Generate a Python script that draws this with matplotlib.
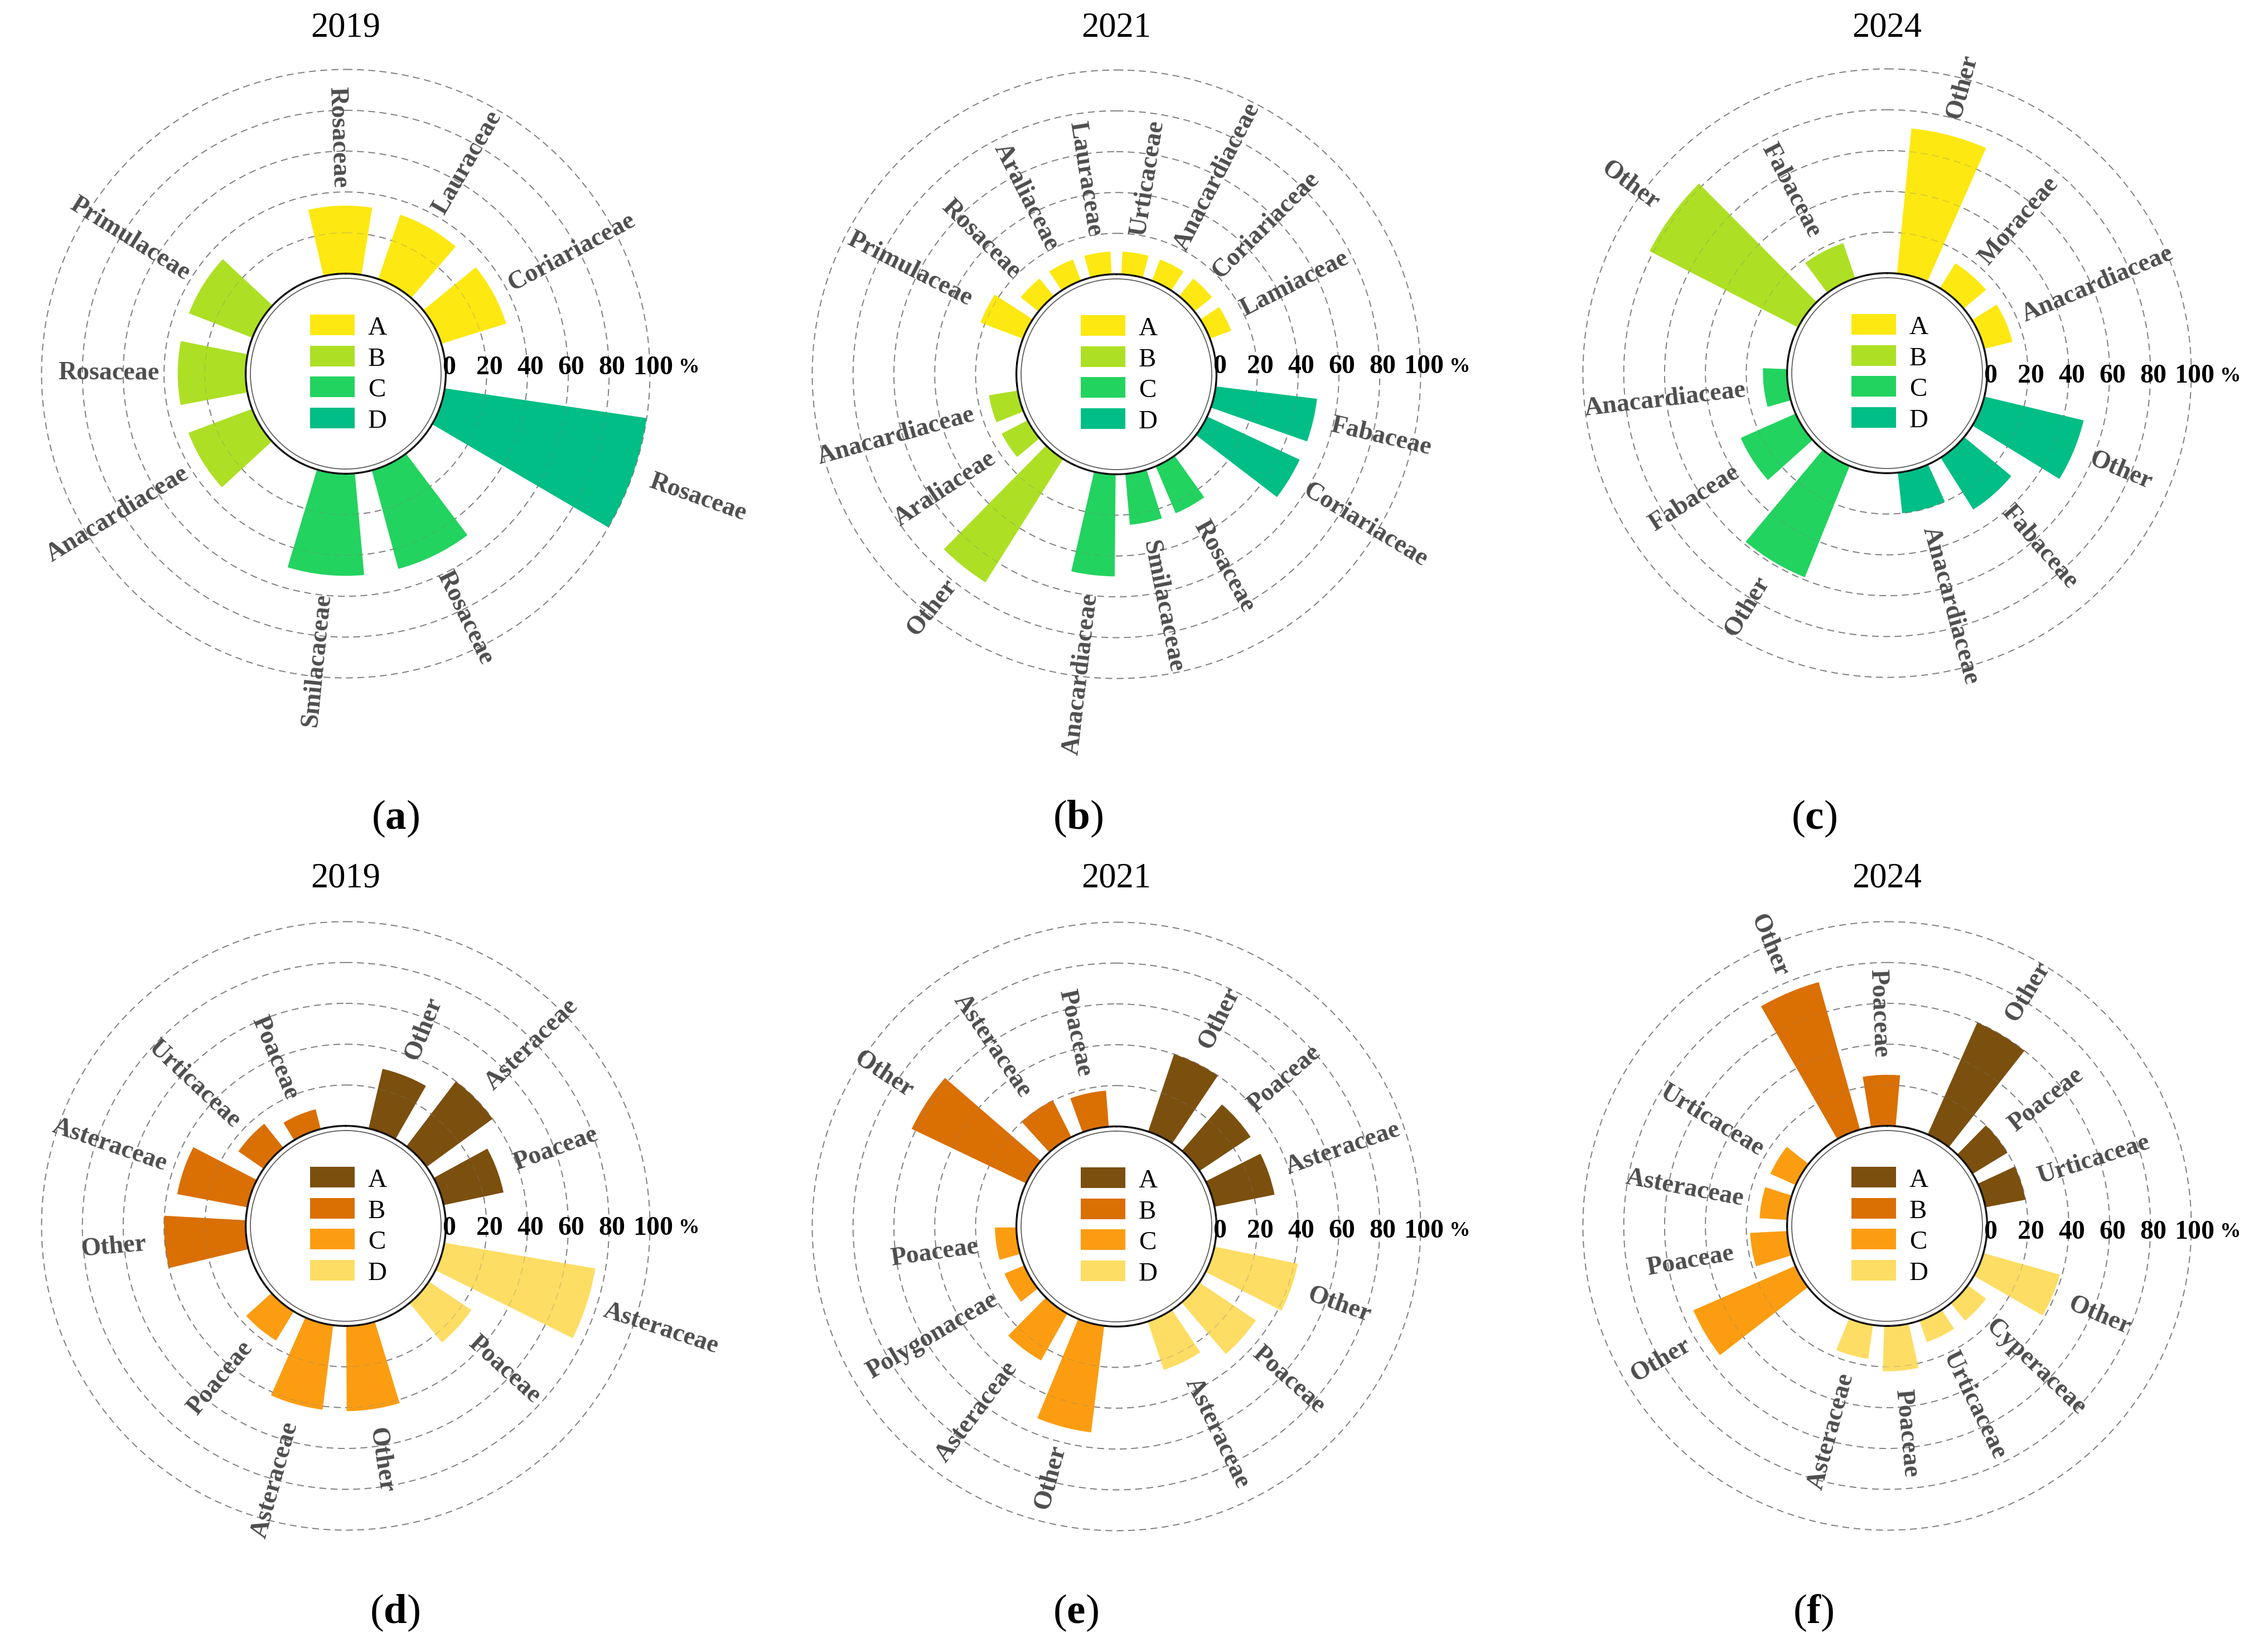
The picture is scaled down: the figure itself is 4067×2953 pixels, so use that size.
import numpy as np
import matplotlib
matplotlib.use("Agg")
import matplotlib.pyplot as plt
from matplotlib.patches import Patch
from matplotlib.transforms import ScaledTranslation

plt.rcParams["font.family"] = ["Liberation Serif", "DejaVu Serif"]
plt.rcParams["mathtext.fontset"] = "custom"
plt.rcParams["mathtext.rm"] = "Liberation Serif"
plt.rcParams["mathtext.bf"] = "Liberation Serif:bold"

# ---------------------------------------------------------------- data
group_names = ["A", "B", "C", "D"]      # legend order
ring_order = ["A", "D", "C", "B"]       # groups clockwise from the top
years = ["2019", "2021", "2024", "2019", "2021", "2024"]
letters = ["a", "b", "c", "d", "e", "f"]
ticks = [0, 20, 40, 60, 80, 100]

green_colors = ["#FDE811", "#ADE024", "#22D35F", "#00BE85"]
brown_colors = ["#7B4F0E", "#DA6F04", "#FC9D11", "#FDDD63"]

# families / percentages per group, groups listed in ring order A, D, C, B
fam_a = [["Rosaceae", "Lauraceae", "Coriariaceae"],
         ["Rosaceae"],
         ["Rosaceae", "Smilacaceae"],
         ["Anacardiaceae", "Rosaceae", "Primulaceae"]]
val_a = [[33.3, 33.3, 33.3], [100.0], [50.0, 50.0], [33.3, 33.3, 33.3]]

fam_b = [["Primulaceae", "Rosaceae", "Araliaceae", "Lauraceae",
          "Urticaceae", "Anacardiaceae", "Coriariaceae", "Lamiaceae"],
         ["Fabaceae", "Coriariaceae"],
         ["Rosaceae", "Smilacaceae", "Anacardiaceae"],
         ["Other", "Araliaceae", "Anacardiaceae"]]
val_b = [[22.2, 11.1, 11.1, 11.1, 11.1, 11.1, 11.1, 11.1],
         [50.0, 50.0],
         [25.0, 25.0, 50.0],
         [71.4, 14.3, 14.3]]

fam_c = [["Other", "Moraceae", "Anacardiaceae"],
         ["Other", "Fabaceae", "Anacardiaceae"],
         ["Other", "Fabaceae", "Anacardiaceae"],
         ["Other", "Fabaceae"]]
val_c = [[71.4, 14.3, 14.3], [50.0, 30.0, 20.0], [58.8, 29.4, 11.8], [81.8, 18.2]]

fam_d = [["Other", "Asteraceae", "Poaceae"],
         ["Asteraceae", "Poaceae"],
         ["Other", "Asteraceae", "Poaceae"],
         ["Other", "Asteraceae", "Urticaceae", "Poaceae"]]
val_d = [[30.0, 40.0, 30.0], [75.0, 25.0], [41.7, 41.7, 16.7], [40.0, 35.0, 15.0, 10.0]]

fam_e = [["Other", "Poaceae", "Asteraceae"],
         ["Other", "Poaceae", "Asteraceae"],
         ["Other", "Asteraceae", "Polygonaceae", "Poaceae"],
         ["Other", "Asteraceae", "Poaceae"]]
val_e = [[40.0, 30.0, 30.0], [41.7, 33.3, 25.0], [52.6, 26.3, 10.5, 10.5], [62.1, 20.2, 17.7]]

fam_f = [["Other", "Poaceae", "Urticaceae"],
         ["Other", "Cyperaceae", "Urticaceae", "Poaceae", "Asteraceae"],
         ["Other", "Poaceae", "Asteraceae", "Urticaceae"],
         ["Other", "Poaceae"]]
val_f = [[60.0, 20.0, 20.0], [38.9, 11.1, 11.1, 22.2, 16.7],
         [54.5, 18.2, 13.6, 13.6], [75.0, 25.0]]

# ---------------------------------------------------------------- layout
W, H, DPI = 4067, 2954, 300
R_PX = 545.5          # pixel radius of the 100 % ring
HOLE = 49.0           # size of the inner hole, in % units
LABEL_PAD = 9.0
GRID_C = "#808080"
LABEL_C = "#4d4d4d"
DASH = (0, (6.5, 4.3))

panels = [
    dict(fams=fam_a, vals=val_a, colors=green_colors, cx=620, cy=671,
         first=-1.9, gaps=[15.9, 12.8, 20.9, 24.3], tick_dy=-12, lx=709, ly=1468, ty=50),
    dict(fams=fam_b, vals=val_b, colors=green_colors, cx=2002, cy=672,
         first=-63.0, gaps=[22.2, 11.5, 13.7, 24.6], tick_dy=-15, lx=1933, ly=1468, ty=50),
    dict(fams=fam_c, vals=val_c, colors=green_colors, cx=3384, cy=670,
         first=14.7, gaps=[19.4, 20.0, 16.8, 16.2], tick_dy=4, lx=3253, ly=1468, ty=50),
    dict(fams=fam_d, vals=val_d, colors=brown_colors, cx=620, cy=2199,
         first=21.5, gaps=[14.2, 15.2, 21.2, 20.2], tick_dy=3, lx=708, ly=2892, ty=1576),
    dict(fams=fam_e, vals=val_e, colors=brown_colors, cx=2002, cy=2200,
         first=26.2, gaps=[16.05, 18.35, 19.05, 15.95], tick_dy=7, lx=1929, ly=2892, ty=1576),
    dict(fams=fam_f, vals=val_f, colors=brown_colors, cx=3384, cy=2199,
         first=31.0, gaps=[20.1, 23.6, 15.5, 12.6], tick_dy=10, lx=3252, ly=2892, ty=1576),
]

fig = plt.figure(figsize=(W / DPI, H / DPI), dpi=DPI)


def draw_panel(p, year, letter):
    cx, cy = p["cx"], p["cy"]
    ax = fig.add_axes([(cx - R_PX) / W, (H - cy - R_PX) / H, 2 * R_PX / W, 2 * R_PX / H],
                      projection="polar")
    ax.set_theta_zero_location("N")
    ax.set_theta_direction(-1)
    ax.set_rlim(0, 100)
    ax.set_rorigin(-HOLE)
    ax.set_xticks([])
    ax.set_yticks([])
    ax.grid(False)
    for sp in ax.spines.values():
        sp.set_visible(False)
    ax.patch.set_visible(False)

    fams, vals, colors = p["fams"], p["vals"], p["colors"]
    n = sum(len(g) for g in vals)
    slot = (360.0 - sum(p["gaps"])) / n
    theta, heights, cols, names = [], [], [], []
    pos = p["first"]
    for gi, (gname, gf, gv) in enumerate(zip(ring_order, fams, vals)):
        c = colors[group_names.index(gname)]
        for f, v in zip(gf, gv):
            theta.append(pos)
            heights.append(v)
            cols.append(c)
            names.append(f)
            pos += slot
        pos += p["gaps"][gi]
    theta = np.array(theta) % 360.0

    circ = np.linspace(0, 2 * np.pi, 721)
    # dashed rings below the bars
    for t in ticks:
        ax.plot(circ, np.full_like(circ, t), color=GRID_C, lw=0.45, ls=DASH,
                zorder=1, clip_on=False)
    # solid inner ring
    ax.plot(circ, np.full_like(circ, -2.3), color="#5a5a5a", lw=0.42, zorder=1, clip_on=False)

    ax.bar(np.deg2rad(theta), heights, width=np.deg2rad(0.69 * slot), bottom=0,
           color=cols, edgecolor="none", zorder=2)

    # faint rings seen through the bars
    for t in ticks:
        ax.plot(circ, np.full_like(circ, t), color=GRID_C, lw=0.45, ls=DASH,
                alpha=0.28, zorder=3, clip_on=False)

    # radial scale
    off = ScaledTranslation(0, -p["tick_dy"] / DPI, fig.dpi_scale_trans)
    for t in ticks:
        ax.text(np.pi / 2, t + 1.5, str(t), transform=ax.transData + off,
                ha="center", va="center", fontsize=11.5, fontweight="bold",
                color="black", clip_on=False, zorder=5)
    ax.text(np.pi / 2, 119, "%", transform=ax.transData + off, ha="center", va="center",
            fontsize=9, fontweight="bold", color="black", clip_on=False, zorder=5)

    # family labels
    for th, h, nm in zip(theta, heights, names):
        if th < 180:
            rot, ha = 90 - th, "left"
        else:
            rot, ha = 270 - th, "right"
        ax.text(np.deg2rad(th), h + LABEL_PAD, nm, rotation=rot, rotation_mode="anchor",
                ha=ha, va="center", fontsize=11, fontweight="bold", color=LABEL_C,
                clip_on=False, zorder=5)

    # legend in the hole
    handles = [Patch(facecolor=c, edgecolor="none") for c in colors]
    ax.legend(handles, group_names, loc="center",
              bbox_to_anchor=(0.5 + 5 / (2 * R_PX), 0.5), frameon=False,
              fontsize=11.3, handlelength=1.71, handleheight=0.83,
              handletextpad=0.5, labelspacing=0.23, borderpad=0, borderaxespad=0)

    fig.text(cx / W, 1 - p["ty"] / H, year, ha="center", va="center", fontsize=15)
    fig.text(p["lx"] / W, 1 - p["ly"] / H, "(" + r"$\mathbf{" + letter + "}$" + ")",
             ha="center", va="center", fontsize=18)


for p, yr, lt in zip(panels, years, letters):
    draw_panel(p, yr, lt)

fig.savefig("out.png", dpi=DPI)
